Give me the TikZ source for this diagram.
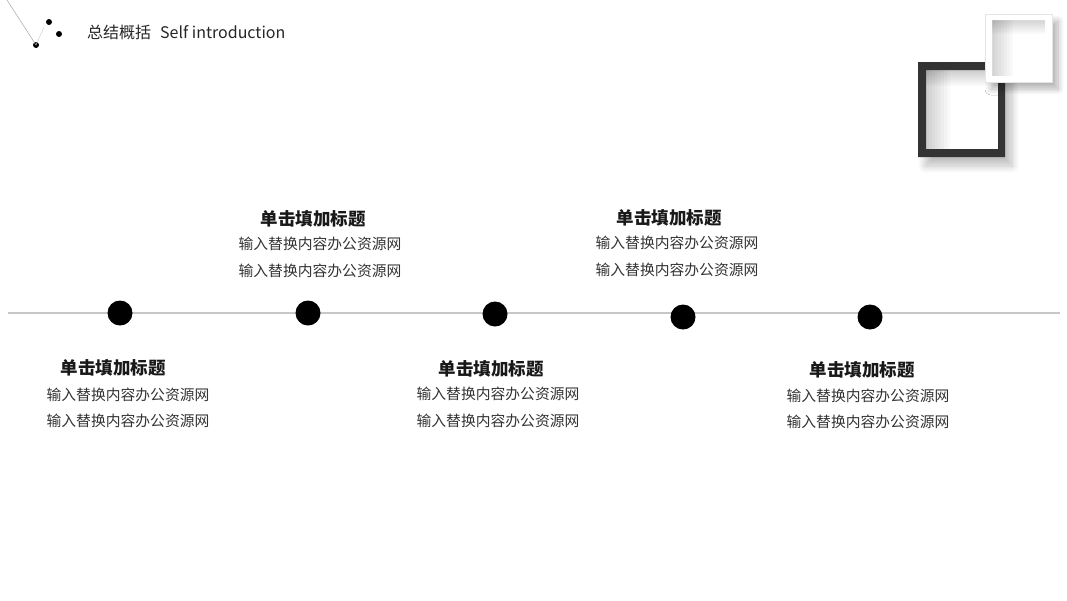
\documentclass[tikz,border=0pt]{standalone}
\usepackage{fontspec}
\setmainfont{Noto Sans CJK SC}
\usepackage{tikz}
\usetikzlibrary{positioning, shadows.blur}

\begin{document}
\begin{tikzpicture}[
        x=1pt, y=-1pt,
        dot/.style   = {circle, fill=black, inner sep=0pt, minimum size=25pt},
        pin/.style   = {circle, fill=black, inner sep=0pt, minimum size=6pt},
        ttl/.style   = {inner sep=0pt, font=\fontsize{17.5}{20}\selectfont\bfseries, text=black!90},
        txt/.style   = {inner sep=0pt, font=\fontsize{14.8}{18}\selectfont, text=black!80},
        tline/.style = {draw=black!22, line width=1.2pt},
        thin/.style  = {draw=black!35, line width=0.5pt},
        haze/.style  = {fill=black, opacity=0.022},
    ]
        \useasboundingbox (0,0) rectangle (1067,600);

        %---- header ----
        \coordinate (hs) at (7,0);
        \node[pin] (h1) at (36,45) {};
        \node[pin] (h2) at (49,22) {};
        \node[pin] (h3) at (59,34) {};
        \draw[thin] (hs) -- (h1.center);
        \draw[thin, draw=black!20] (h1.center) -- (44,27);
        \node[anchor=west, inner sep=0pt, font=\fontsize{16}{18}\selectfont, text=black!85] (head) at (87,32) {总结概括\hspace{9pt}Self introduction};

        %---- frames ----
        \fill[white, blur shadow={shadow xshift=7pt, shadow yshift=-9pt, shadow blur steps=10, shadow blur radius=7pt, shadow opacity=25}]
            (918,62) rectangle (1005,157);
        \foreach \k in {1,...,8} {
            \fill[haze] (926,70) rectangle (926+3*\k,149);
            \fill[haze] (926,70) rectangle (998,70+2*\k);
        }
        \fill[black!80, even odd rule] (918,62) rectangle (1005,157) (926,70) rectangle (998,149);
        \fill[white, blur shadow={shadow xshift=6pt, shadow yshift=-7pt, shadow blur steps=10, shadow blur radius=6pt, shadow opacity=30}]
            (985,14) rectangle (1052,82);
        \foreach \k in {1,...,7} {
            \fill[haze] (992,20) rectangle (992+3*\k,76);
            \fill[haze] (992,20) rectangle (1045,20+2*\k);
        }
        \fill[white, even odd rule] (985,14) rectangle (1052,82) (992,20) rectangle (1045,76);
        \draw[black!10, line width=0.6pt] (985,14) rectangle (1052,82);

        %---- timeline ----
        \coordinate (lineL) at (8,313);
        \coordinate (lineR) at (1060,313);
        \draw[tline] (lineL) -- (lineR);
        \node[dot] (d1) at (120,313) {};
        \node[dot] (d2) at (308,313) {};
        \node[dot] (d3) at (495,314) {};
        \node[dot] (d4) at (683,317) {};
        \node[dot] (d5) at (870,317) {};

        %---- item 1 ----
        \node[ttl] (t1) at (113,368) {单击填加标题};
        \node[txt] (t1a) at (128,395) {输入替换内容办公资源网};
        \node[txt] (t1b) at (128,421) {输入替换内容办公资源网};

        %---- item 2 ----
        \node[ttl] (t2) at (313,219) {单击填加标题};
        \node[txt] (t2a) at (320,244) {输入替换内容办公资源网};
        \node[txt] (t2b) at (320,271) {输入替换内容办公资源网};

        %---- item 3 ----
        \node[ttl] (t3) at (491,369) {单击填加标题};
        \node[txt] (t3a) at (498,394) {输入替换内容办公资源网};
        \node[txt] (t3b) at (498,421) {输入替换内容办公资源网};

        %---- item 4 ----
        \node[ttl] (t4) at (669,218) {单击填加标题};
        \node[txt] (t4a) at (677,243) {输入替换内容办公资源网};
        \node[txt] (t4b) at (677,270) {输入替换内容办公资源网};

        %---- item 5 ----
        \node[ttl] (t5) at (862,370) {单击填加标题};
        \node[txt] (t5a) at (868,396) {输入替换内容办公资源网};
        \node[txt] (t5b) at (868,422) {输入替换内容办公资源网};
    \end{tikzpicture}
\end{document}
